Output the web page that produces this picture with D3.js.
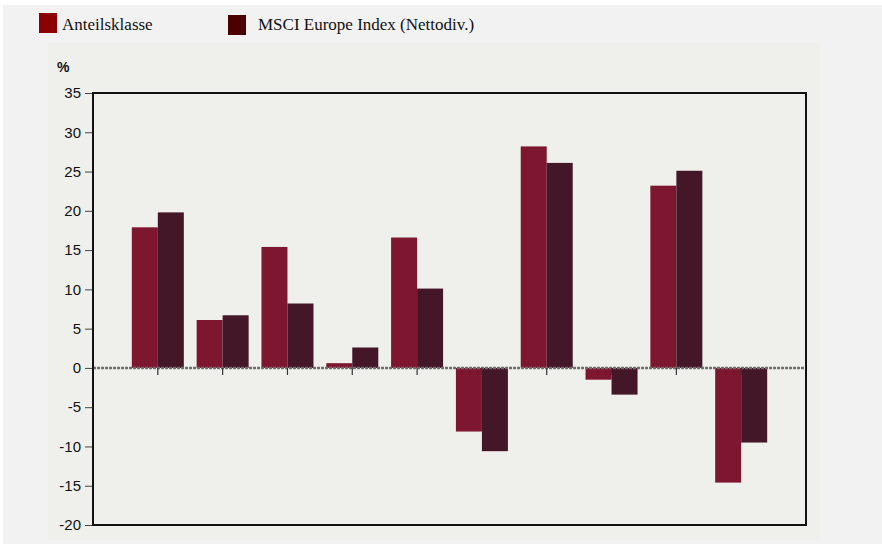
<!DOCTYPE html>
<html><head><meta charset="utf-8">
<script src="https://cdn.jsdelivr.net/npm/d3@7"></script>
<style>body{margin:0;background:#fff;}svg{display:block;}</style>
</head><body>
<script>
const categories = ["1","2","3","4","5","6","7","8","9","10"];
const seriesNames = ["Anteilsklasse","MSCI Europe Index (Nettodiv.)"];
const fund  = [17.9, 6.1, 15.4, 0.6, 16.6, -8.1, 28.2, -1.5, 23.2, -14.6];
const index = [19.8, 6.7, 8.2, 2.6, 10.1, -10.6, 26.1, -3.4, 25.1, -9.5];
const yTicks = [35,30,25,20,15,10,5,0,-5,-10,-15,-20];

const W=882,H=544;
const svg=d3.select("body").append("svg").attr("width",W).attr("height",H);
svg.append("rect").attr("x",3).attr("y",5).attr("width",W-3).attr("height",H-5).attr("fill","#f2f2f2");
svg.append("rect").attr("x",48).attr("y",43).attr("width",772).attr("height",497).attr("fill","#efefeb");

const L=93,R=806,T=93,B=525;
const x=d3.scalePoint().domain(categories).range([L,R]).padding(1);
const y=d3.scaleLinear().domain([-20,35]).range([B,T]);
const bw=26;
const barColors=["#7d1730","#431628"];
const legendColors=["#8b0000","#4d0000"];

// bars
[fund,index].forEach((vals,si)=>{
  svg.append("g").selectAll("rect").data(vals).join("rect")
    .attr("x",(d,i)=>x(categories[i])+(si===0?-bw:0))
    .attr("width",bw)
    .attr("y",d=>y(Math.max(0,d)))
    .attr("height",d=>Math.abs(y(d)-y(0)))
    .attr("fill",barColors[si]);
});

// zero line
svg.append("line").attr("x1",L).attr("x2",R).attr("y1",y(0)).attr("y2",y(0))
  .attr("stroke","#6e6e6e").attr("stroke-width",2.5).attr("stroke-dasharray","3,1");

// category ticks
svg.append("g").selectAll("line").data(categories).join("line")
  .attr("x1",d=>x(d)).attr("x2",d=>x(d)).attr("y1",y(0)).attr("y2",y(0)+7)
  .attr("stroke","#333").attr("stroke-width",1.2);

// y axis
const ya=svg.append("g").attr("transform",`translate(${L},0)`)
  .call(d3.axisLeft(y).tickValues(yTicks).tickSize(8).tickPadding(4).tickFormat(d=>String(d)));
ya.select(".domain").remove();
ya.selectAll("line").attr("stroke","#444");
ya.selectAll("text").attr("font-family","Liberation Sans, Arial, sans-serif").attr("font-size",15).attr("fill","#111");

// frame
svg.append("rect").attr("x",L).attr("y",T).attr("width",R-L).attr("height",B-T)
  .attr("fill","none").attr("stroke","#111").attr("stroke-width",2);

svg.append("text").attr("x",57).attr("y",72).text("%")
  .attr("font-family","Liberation Sans, Arial, sans-serif").attr("font-weight","bold").attr("font-size",14).attr("fill","#111");

// legend
const lx=[39,228];
seriesNames.forEach((n,i)=>{
  svg.append("rect").attr("x",lx[i]).attr("y",13+ (i?2:0)).attr("width",18).attr("height",20).attr("fill",legendColors[i]);
  svg.append("text").attr("x",lx[i]+(i?30:23)).attr("y",30).text(n)
    .attr("font-family","Liberation Serif, Times New Roman, serif").attr("font-size",17).attr("fill","#111");
});
</script>
</body></html>
